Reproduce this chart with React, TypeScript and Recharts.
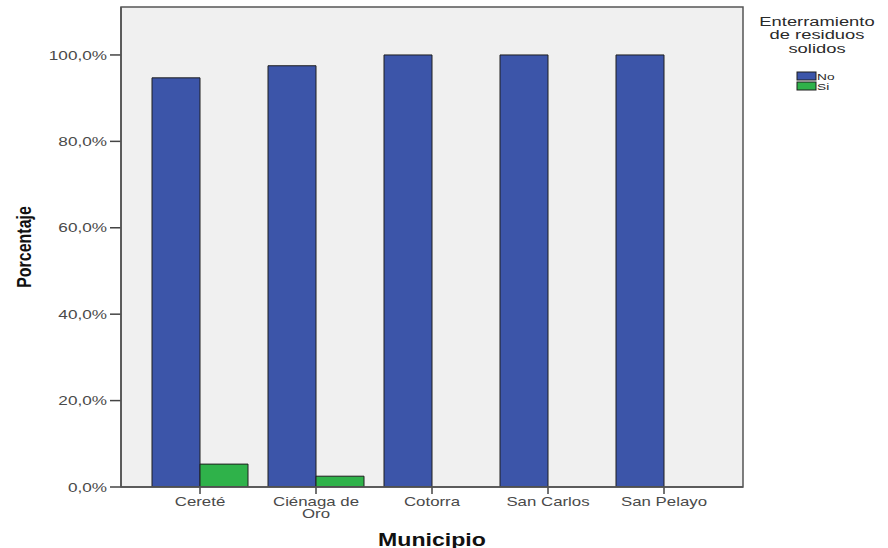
import { BarChart, Bar, XAxis, YAxis, CartesianGrid } from 'recharts';

const municipios = ['Cereté', 'Ciénaga de Oro', 'Cotorra', 'San Carlos', 'San Pelayo'];
const noValues = [94.7, 97.5, 100, 100, 100];
const siValues = [5.3, 2.5, 0, 0, 0];
const yTicks = [0, 20, 40, 60, 80, 100];
const legendTitle = ['Enterramiento', 'de residuos', 'solidos'];
const series = [
  { key: 'no', name: 'No', color: '#3c55a9' },
  { key: 'si', name: 'Si', color: '#2fb24a' }
];

const data = municipios.map((name, i) => ({ name, no: noValues[i], si: siValues[i] }));

const FONT = "'Liberation Sans', Arial, sans-serif";
const STRETCH = 1.32;

// plot box (SPSS draws a frame round the data area)
const PLOT = { left: 121, top: 7, right: 743, bottom: 487 };

// split labels into lines of max 10 chars (SPSS wraps long category names)
function wrap(label: string, max = 10) {
  const lines: string[] = [];
  let cur = '';
  for (const w of label.split(' ')) {
    const next = cur ? cur + ' ' + w : w;
    if (next.length > max && cur) {
      lines.push(cur);
      cur = w;
    } else {
      cur = next;
    }
  }
  if (cur) lines.push(cur);
  return lines;
}

function YTick({ x, y, payload }: any) {
  return (
    <g transform={`translate(${x},${y}) scale(${STRETCH},1)`}>
      <text textAnchor="end" dy="0.36em" fontSize={13} fill="#4a4a4a" fontFamily={FONT}>
        {payload.value.toFixed(1).replace('.', ',') + '%'}
      </text>
    </g>
  );
}

function XTick({ x, y, payload }: any) {
  const lines = wrap(payload.value);
  return (
    <g transform={`translate(${x},${y}) scale(1.38,1)`}>
      {lines.map((l, i) => (
        <text key={i} textAnchor="middle" y={10 + i * 12.5} fontSize={12.2} fill="#4a4a4a" fontFamily={FONT}>
          {l}
        </text>
      ))}
    </g>
  );
}

export default function App() {
  return (
    <div style={{ position: 'absolute', left: 0, top: 0, width: 888, height: 548, background: '#fff' }}>
      <BarChart
        width={888}
        height={548}
        data={data}
        margin={{ top: PLOT.top, right: 888 - PLOT.right, bottom: 31, left: PLOT.left - 70 }}
        barGap={0}
        barSize={48}
      >
        <CartesianGrid horizontal={false} vertical={false} fill="#f0f0f0" />
        <XAxis
          dataKey="name"
          padding={{ left: 21, right: 21 }}
          height={30}
          tickSize={7}
          tickMargin={2}
          tick={<XTick />}
          interval={0}
          axisLine={{ stroke: '#444', strokeWidth: 1.5 }}
          tickLine={{ stroke: '#444', strokeWidth: 1.5 }}
        />
        <YAxis
          domain={[0, 111.1]}
          ticks={yTicks}
          width={70}
          tickSize={11}
          tickMargin={3}
          tick={<YTick />}
          allowDataOverflow
          axisLine={{ stroke: '#444', strokeWidth: 1.5 }}
          tickLine={{ stroke: '#444', strokeWidth: 1.5 }}
        />
        {series.map((s) => (
          <Bar
            key={s.key}
            dataKey={s.key}
            name={s.name}
            fill={s.color}
            stroke="#1e1e1e"
            strokeWidth={1}
            isAnimationActive={false}
          />
        ))}
      </BarChart>

      {/* frame, axis titles and legend, drawn over the chart */}
      <svg width={888} height={548} style={{ position: 'absolute', left: 0, top: 0, pointerEvents: 'none' }}>
        <rect
          x={PLOT.left}
          y={PLOT.top}
          width={PLOT.right - PLOT.left}
          height={PLOT.bottom - PLOT.top}
          fill="none"
          stroke="#555"
          strokeWidth={1.5}
        />
        <g transform={`translate(23,247) scale(${STRETCH},1) rotate(-90)`}>
          <text textAnchor="middle" dy="0.36em" fontSize={16} fontWeight="bold" fill="#111" fontFamily={FONT}>
            Porcentaje
          </text>
        </g>
        <g transform={`translate(432,546) scale(${STRETCH},1)`}>
          <text textAnchor="middle" fontSize={17.5} fontWeight="bold" fill="#111" fontFamily={FONT}>
            Municipio
          </text>
        </g>
        <g transform={`translate(817,0) scale(1.36,1)`}>
          {legendTitle.map((t, i) => (
            <text key={t} textAnchor="middle" y={26 + i * 13.5} fontSize={13.5} fill="#2a2a2a" fontFamily={FONT}>
              {t}
            </text>
          ))}
        </g>
        {series.map((s, i) => (
          <g key={s.key}>
            <rect x={797} y={72 + i * 10} width={19} height={8} fill={s.color} stroke="#1e1e1e" strokeWidth={1} />
            <g transform={`translate(817,${79.5 + i * 10}) scale(1.4,1)`}>
              <text fontSize={9.8} fill="#2a2a2a" fontFamily={FONT}>
                {s.name}
              </text>
            </g>
          </g>
        ))}
      </svg>
    </div>
  );
}
